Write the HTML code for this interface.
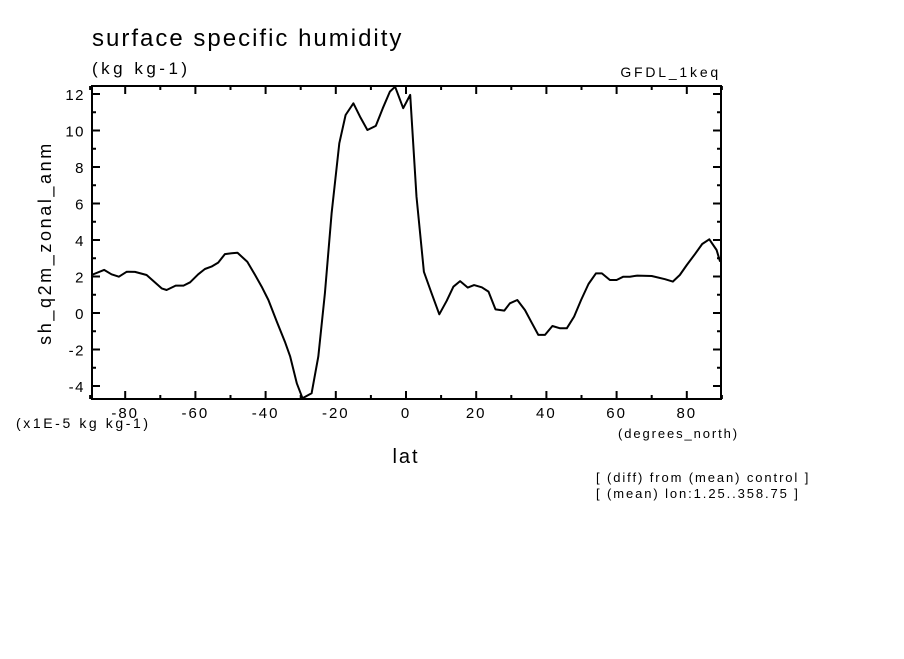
<!DOCTYPE html>
<html><head><meta charset="utf-8"><style>
body{margin:0;background:#fff;width:904px;height:654px;overflow:hidden}
text{font-family:"Liberation Sans",sans-serif;fill:#000}
</style></head><body>
<svg id="chart" width="904" height="654" xmlns="http://www.w3.org/2000/svg">
<text x="92" y="46" font-size="24" letter-spacing="2">surface specific humidity</text>
<text x="92" y="74" font-size="17" letter-spacing="3.5">(kg kg-1)</text>
<text x="721" y="77" font-size="14" text-anchor="end" letter-spacing="2.8">GFDL_1keq</text>
<text x="0" y="0" font-size="18" text-anchor="middle" letter-spacing="2.6" transform="translate(51,243) rotate(-90)">sh_q2m_zonal_anm</text>
<text x="406" y="463" font-size="20" text-anchor="middle" letter-spacing="2">lat</text>
<text x="16" y="428" font-size="14" letter-spacing="2.6">(x1E-5 kg kg-1)</text>
<text x="618" y="438" font-size="13" letter-spacing="1.9">(degrees_north)</text>
<text x="596" y="482" font-size="13" letter-spacing="1.9">[ (diff) from (mean) control ]</text>
<text x="596" y="498" font-size="13" letter-spacing="1.9">[ (mean) lon:1.25..358.75 ]</text>
<g id="axes"></g>
<polyline id="series" fill="none" stroke="#000" stroke-width="2" stroke-linejoin="round"/>
<rect x="92" y="86" width="629" height="313" fill="none" stroke="#000" stroke-width="2"/>
</svg>
<script>
const lats=[-89.6,-86,-83.9,-81.8,-79.6,-77.2,-73.9,-69.6,-68.2,-65.6,-63.4,-61.5,-59.2,-57.3,-55.4,-53.5,-51.6,-49.7,-48,-45.2,-43,-41.1,-39.2,-36.8,-34.5,-33,-31.1,-29.5,-26.9,-25,-23.1,-21.2,-19,-17.2,-15,-13.1,-11,-8.6,-6.6,-4.6,-3.1,-0.8,1.2,3.0,5.1,7.3,9.5,11.6,13.5,15.4,17.6,19.4,21.6,23.5,25.5,28,29.6,31.7,33.9,35.8,37.7,39.6,41.7,43.9,45.8,47.9,49.9,52,54.1,55.8,58.1,60,61.9,63.8,65.9,70,73.8,76,78,80,82.3,84.4,86.4,88.5,89.5];
const vals=[2.08,2.36,2.12,1.99,2.26,2.25,2.08,1.35,1.26,1.5,1.5,1.68,2.12,2.41,2.54,2.76,3.23,3.27,3.3,2.81,2.08,1.44,0.71,-0.47,-1.57,-2.39,-3.85,-4.67,-4.4,-2.39,1.08,5.46,9.3,10.85,11.49,10.76,10.03,10.25,11.22,12.13,12.4,11.22,11.95,6.37,2.26,1.08,-0.07,0.67,1.44,1.75,1.39,1.53,1.41,1.17,0.2,0.13,0.53,0.71,0.16,-0.53,-1.2,-1.2,-0.71,-0.84,-0.84,-0.2,0.71,1.59,2.17,2.17,1.81,1.81,1.99,1.99,2.05,2.03,1.85,1.72,2.08,2.63,3.22,3.78,4.04,3.45,2.81];
const xTicks=[-80,-60,-40,-20,0,20,40,60,80];
const yTicks=[-4,-2,0,2,4,6,8,10,12];
const X0=92,X1=721,Y0=86,Y1=399;
const xs=v=>406+v*3.51;
const ys=v=>313-v*18.25;
const NS="http://www.w3.org/2000/svg";
const axes=document.getElementById('axes');
function ln(x1,y1,x2,y2,w,name){const l=document.createElementNS(NS,'line');
l.setAttribute('x1',x1);l.setAttribute('y1',y1);l.setAttribute('x2',x2);l.setAttribute('y2',y2);
l.setAttribute('stroke','#000');l.setAttribute('stroke-width',w);


axes.appendChild(l);}
for(let v=-90;v<=90;v+=10){const x=xs(v);const len=v%20===0?8:4;
ln(x,Y1,x,Y1-len,2,'x-tick');ln(x,Y0,x,Y0+len,2,'x-tick');}
for(let v=-4;v<=12;v+=1){const y=ys(v);const len=v%2===0?8:4;
ln(X0,y,X0+len,y,2,'y-tick');ln(X1,y,X1-len,y,2,'y-tick');}
xTicks.forEach(v=>{const t=document.createElementNS(NS,'text');
t.setAttribute('x',xs(v));t.setAttribute('y',418);t.setAttribute('font-size','15');t.setAttribute('text-anchor','middle');t.setAttribute('letter-spacing','2');


t.textContent=v;axes.appendChild(t);});
yTicks.forEach(v=>{const t=document.createElementNS(NS,'text');
t.setAttribute('x',85);t.setAttribute('y',ys(v)+6);t.setAttribute('font-size','15');t.setAttribute('text-anchor','end');t.setAttribute('letter-spacing','1.5');


t.textContent=v;axes.appendChild(t);});
document.getElementById('series').setAttribute('points',lats.map((l,i)=>xs(l).toFixed(1)+','+ys(vals[i]).toFixed(1)).join(' '));
</script>
</body></html>
